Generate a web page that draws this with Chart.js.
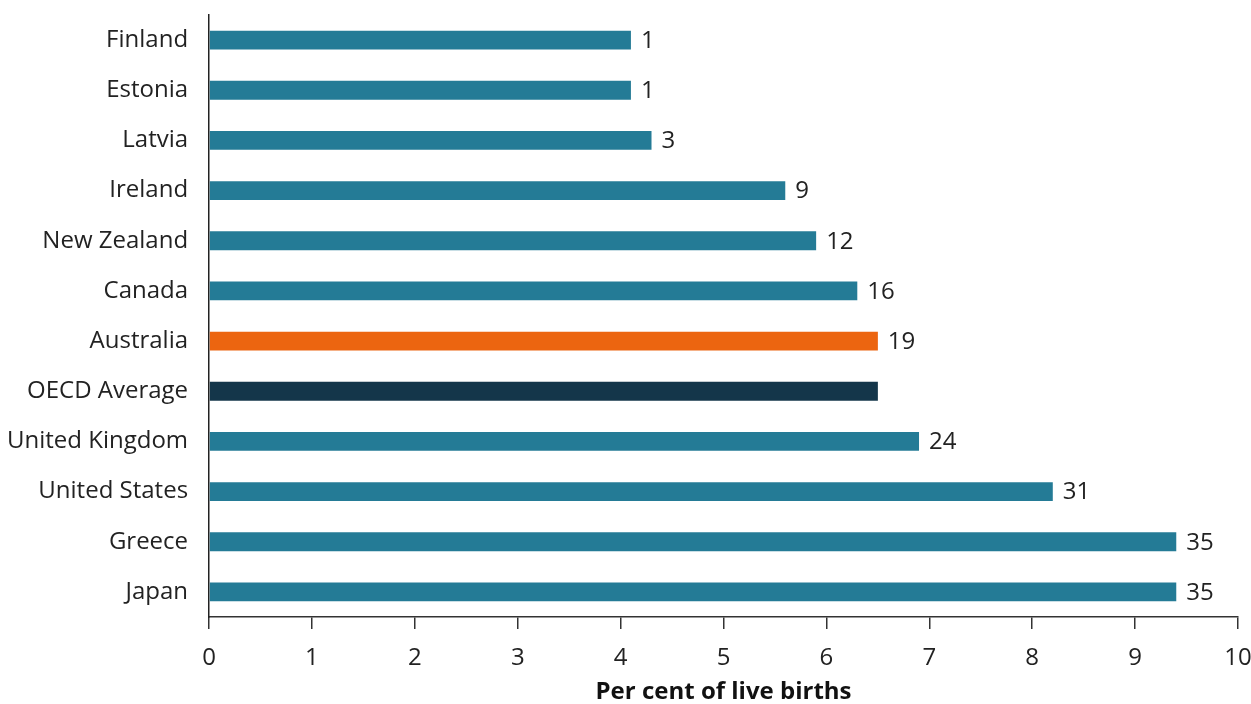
<!DOCTYPE html>
<html>
<head>
<meta charset="utf-8">
<script src="https://cdn.jsdelivr.net/npm/chart.js@4"></script>
<style>
  html, body { margin: 0; padding: 0; background: #fff; }
  #wrap { width: 1251px; height: 704px; }
</style>
</head>
<body>
<div id="wrap"><canvas id="myChart" width="1251" height="704"></canvas></div>
<script>
// data
const countries = ['Finland', 'Estonia', 'Latvia', 'Ireland', 'New Zealand', 'Canada',
  'Australia', 'OECD Average', 'United Kingdom', 'United States', 'Greece', 'Japan'];
const perCent = [4.1, 4.1, 4.3, 5.6, 5.9, 6.3, 6.5, 6.5, 6.9, 8.2, 9.4, 9.4];
const ranks = ['1', '1', '3', '9', '12', '16', '19', '', '24', '31', '35', '35'];
const xTicks = [0, 1, 2, 3, 4, 5, 6, 7, 8, 9, 10];

const teal = '#247b96';
const barColours = countries.map(c =>
  c === 'Australia' ? '#ec6510' : (c === 'OECD Average' ? '#14364a' : teal));

const font = 'Open Sans';

// draw rank next to the end of each bar
const rankLabels = {
  id: 'rankLabels',
  afterDatasetsDraw(chart) {
    const ctx = chart.ctx;
    const meta = chart.getDatasetMeta(0);
    ctx.save();
    ctx.font = '24px "' + font + '"';
    ctx.fillStyle = '#222';
    ctx.textAlign = 'left';
    ctx.textBaseline = 'middle';
    meta.data.forEach((bar, i) => {
      if (ranks[i]) ctx.fillText(ranks[i], bar.x + 10, bar.y + 1);
    });
    ctx.restore();
  }
};

new Chart(document.getElementById('myChart'), {
  type: 'bar',
  data: {
    labels: countries,
    datasets: [{
      data: perCent,
      backgroundColor: barColours,
      barPercentage: 0.375,
      categoryPercentage: 1
    }]
  },
  options: {
    indexAxis: 'y',
    responsive: false,
    animation: false,
    layout: { padding: { top: 15, right: 13, left: 8, bottom: 0 } },
    plugins: {
      legend: { display: false },
      tooltip: { enabled: false }
    },
    scales: {
      x: {
        min: 0,
        max: 10,
        afterBuildTicks: axis => { axis.ticks = xTicks.map(v => ({ value: v })); },
        afterFit: s => { s.paddingLeft = 0; s.paddingRight = 0; s.height -= 17; },
        grid: { display: true, drawOnChartArea: false, drawTicks: true, tickLength: 12, color: '#333', lineWidth: 1.5 },
        border: { display: true, color: '#333', width: 1.5 },
        ticks: { color: '#222', font: { family: font, size: 24, lineHeight: 1 }, padding: 17, maxRotation: 0 },
        title: { display: true, text: 'Per cent of live births', color: '#111',
          font: { family: font, size: 24, weight: 'bold', lineHeight: 1 }, padding: { top: 10, bottom: 0 } }
      },
      y: {
        afterFit: s => { s.paddingTop = 0; s.paddingBottom = 0; s.width -= 22; },
        grid: { display: false, drawTicks: false },
        border: { display: true, color: '#222', width: 1.5 },
        ticks: { color: '#222', font: { family: font, size: 24 }, padding: 21 }
      }
    }
  },
  plugins: [rankLabels]
});
</script>
</body>
</html>
